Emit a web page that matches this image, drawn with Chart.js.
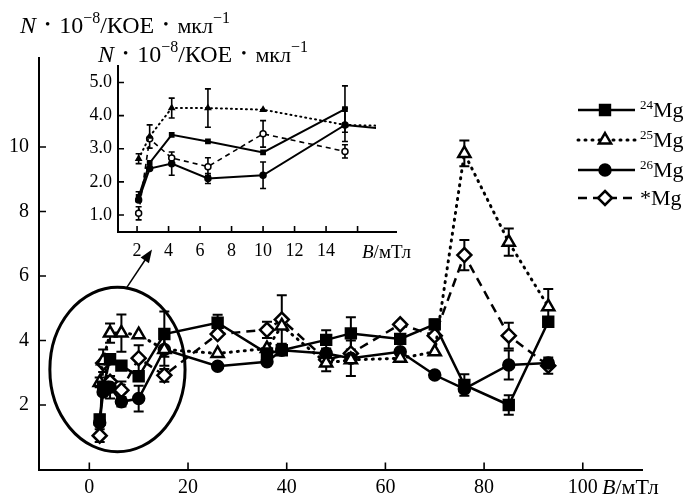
<!DOCTYPE html>
<html>
<head>
<meta charset="utf-8">
<script src="https://cdn.jsdelivr.net/npm/chart.js@4/dist/chart.umd.min.js"></script>
<style>
  body { margin: 0; background: #fff; }
  #wrap { position: relative; width: 692px; height: 499px; }
  canvas { position: absolute; left: 0; top: 0; }
</style>
</head>
<body>
<div id="wrap">
  <canvas id="main" width="692" height="499"></canvas>
  <canvas id="inset" width="692" height="499"></canvas>
</div>
<script>
// magnetic field, mT
const fieldB = [2.1, 2.8, 4.2, 6.5, 10, 15.2, 26, 36, 39, 48, 53, 63, 70, 76, 85, 93];
// N·10^-8 / КОЕ·мкл^-1 for each isotope
const mg24   = [1.55, 2.57, 3.42, 3.22, 2.89, 4.2, 4.55, 3.6, 3.7, 4.02, 4.22, 4.05, 4.5, 2.62, 2.0, 4.58];
const mg25   = [2.7, 3.37, 4.23, 4.23, 4.18, 3.72, 3.6, 3.75, 4.45, 3.3, 3.4, 3.45, 3.65, 9.8, 7.05, 5.05];
const mg26   = [1.45, 2.4, 2.55, 2.1, 2.2, 3.72, 3.2, 3.34, 3.7, 3.6, 3.45, 3.65, 2.93, 2.5, 3.24, 3.3];
const mgStar = [1.05, 3.3, 2.72, 2.46, 3.45, 2.92, 4.2, 4.33, 4.65, 3.4, 3.6, 4.5, 4.15, 6.65, 4.15, 3.22];
// error bar half-widths (0 = none)
const err24   = [0.15, 0, 0, 0, 0, 0.7, 0.25, 0, 0, 0.3, 0.5, 0, 0.15, 0.33, 0.3, 0];
const err25   = [0.15, 0.35, 0.3, 0.58, 0, 0, 0, 0, 0, 0, 0, 0, 0, 0.4, 0.42, 0.55];
const err26   = [0, 0, 0.35, 0.15, 0.4, 0.5, 0, 0, 0, 0, 0.55, 0, 0, 0, 0.45, 0];
const errStar = [0.2, 0, 0, 0.27, 0.4, 0.2, 0, 0.25, 0.75, 0.35, 0, 0, 0, 0.47, 0.4, 0.25];

const xTicks = [0, 20, 40, 60, 80, 100];
const yTicks = [2, 4, 6, 8, 10];
const insetXTicks = [2, 4, 6, 8, 10, 12, 14, 16];
const insetXLabels = ['2', '4', '6', '8', '10', '12', '14', ''];
const insetYTicks = [1, 2, 3, 4, 5];
const isotopes = ['24', '25', '26', '*'];
// points shown in the inset for each series
const insetCount = [6, 7, 7, 6];

const SERIF = '"Liberation Serif", "Times New Roman", serif';
Chart.defaults.font.family = SERIF;
Chart.defaults.color = '#000';

const styles = [
  { shape: 'rect', fill: '#000', r: 7, dash: [], cap: 'butt', width: 2.5, iDash: [], iWidth: 2 },
  { shape: 'triangle', fill: '#fff', r: 7, dash: [1, 6], cap: 'round', width: 3, iDash: [1, 4], iWidth: 2 },
  { shape: 'circle', fill: '#000', r: 5.5, dash: [], cap: 'butt', width: 2.5, iDash: [], iWidth: 2 },
  { shape: 'rectRot', fill: '#fff', r: 7, dash: [9, 6], cap: 'butt', width: 2.5, iDash: [5, 4], iWidth: 1.6 }
];
const values = [mg24, mg25, mg26, mgStar];
const errors = [err24, err25, err26, errStar];

function pts(vals, n) {
  return fieldB.slice(0, n).map((b, i) => ({ x: b, y: vals[i] }));
}

function marker(ctx, shape, x, y, r, fill) {
  ctx.save();
  ctx.fillStyle = fill; ctx.strokeStyle = '#000'; ctx.lineWidth = 2.5; ctx.setLineDash([]);
  ctx.beginPath();
  if (shape === 'rect') {
    const s = r * Math.SQRT1_2; ctx.rect(x - s, y - s, 2 * s, 2 * s);
  } else if (shape === 'circle') {
    ctx.arc(x, y, r, 0, Math.PI * 2);
  } else if (shape === 'triangle') {
    const h = r * 1.5;
    ctx.moveTo(x, y - h * 0.66); ctx.lineTo(x + r * 0.87, y + h * 0.33); ctx.lineTo(x - r * 0.87, y + h * 0.33); ctx.closePath();
  } else {
    ctx.moveTo(x, y - r); ctx.lineTo(x + r, y); ctx.lineTo(x, y + r); ctx.lineTo(x - r, y); ctx.closePath();
  }
  ctx.fill(); ctx.stroke();
  ctx.restore();
}

// pieces: [text, font, raise]; a null text is a stretchable gap, sized so the run is `width` wide
function drawPieces(ctx, x, y, pieces, width) {
  ctx.save();
  ctx.fillStyle = '#000'; ctx.textBaseline = 'alphabetic'; ctx.textAlign = 'left';
  let natural = 0, gaps = 0;
  pieces.forEach(p => {
    if (p[0] === null) { gaps++; return; }
    ctx.font = p[1]; natural += ctx.measureText(p[0]).width;
  });
  const gap = width && gaps ? Math.max(0, (width - natural) / gaps) : 0;
  pieces.forEach(p => {
    if (p[0] === null) { x += gap; return; }
    ctx.font = p[1];
    ctx.fillText(p[0], x, y - p[2]);
    x += ctx.measureText(p[0]).width;
  });
  ctx.restore();
}

function unitsTitle(ctx, x, y) {
  drawPieces(ctx, x, y, [
    ['N', 'italic 24px ' + SERIF, 0], [null],
    ['•', '15px ' + SERIF, 4], [null],
    ['10', '24px ' + SERIF, 0],
    ['−8', '16px ' + SERIF, 10],
    ['/КОЕ', '24px ' + SERIF, 0], [null],
    ['•', '15px ' + SERIF, 4], [null],
    ['мкл', '22px ' + SERIF, 0],
    ['−1', '16px ' + SERIF, 10]
  ], 210);
}

function inwardTicks(chart, len) {
  const { ctx, chartArea: a, scales: { x, y } } = chart;
  ctx.save();
  ctx.strokeStyle = '#000'; ctx.lineWidth = 1.6;
  ctx.beginPath();
  x.ticks.forEach(t => {
    const px = x.getPixelForValue(t.value);
    ctx.moveTo(px, a.bottom); ctx.lineTo(px, a.bottom - len);
  });
  y.ticks.forEach(t => {
    const py = y.getPixelForValue(t.value);
    ctx.moveTo(a.left, py); ctx.lineTo(a.left + len, py);
  });
  ctx.stroke();
  ctx.restore();
}

function errorBars(chart, cap, lw) {
  const { ctx, chartArea: a, scales: { x, y } } = chart;
  ctx.save();
  ctx.strokeStyle = '#000'; ctx.lineWidth = lw; ctx.setLineDash([]);
  chart.data.datasets.forEach(ds => {
    ds.data.forEach((d, i) => {
      const e = ds.errs[i];
      if (!e) return;
      const px = x.getPixelForValue(d.x);
      if (px > a.right - 20 || px < a.left) return;
      const y1 = y.getPixelForValue(d.y + e), y2 = y.getPixelForValue(d.y - e);
      ctx.beginPath();
      ctx.moveTo(px, y1); ctx.lineTo(px, y2);
      ctx.moveTo(px - cap, y1); ctx.lineTo(px + cap, y1);
      ctx.moveTo(px - cap, y2); ctx.lineTo(px + cap, y2);
      ctx.stroke();
    });
  });
  ctx.restore();
}

// circled region around the low-field points, in data units
const ring = { x: 5.7, y: 3.1, rx: 13.7, ry: 2.55 };
const arrowFrom = { x: 7.4, y: 5.6 }, arrowTo = { x: 12.7, y: 6.82 };
const legendY = [110, 140, 170, 198];

const mainExtras = {
  id: 'mainExtras',
  beforeDatasetsDraw(chart) { errorBars(chart, 5, 2); },
  afterDraw(chart) {
    const { ctx, scales: { x, y } } = chart;
    inwardTicks(chart, 7);
    // ellipse
    const cx = x.getPixelForValue(ring.x), cy = y.getPixelForValue(ring.y);
    const rx = x.getPixelForValue(ring.x + ring.rx) - cx, ry = cy - y.getPixelForValue(ring.y + ring.ry);
    ctx.save();
    ctx.strokeStyle = '#000'; ctx.lineWidth = 3;
    ctx.beginPath(); ctx.ellipse(cx, cy, rx, ry, 0, 0, Math.PI * 2); ctx.stroke();
    // arrow to the inset
    const ax = x.getPixelForValue(arrowFrom.x), ay = y.getPixelForValue(arrowFrom.y);
    const bx = x.getPixelForValue(arrowTo.x), by = y.getPixelForValue(arrowTo.y);
    const ang = Math.atan2(by - ay, bx - ax);
    ctx.lineWidth = 1.5;
    ctx.beginPath(); ctx.moveTo(ax, ay); ctx.lineTo(bx - 8 * Math.cos(ang), by - 8 * Math.sin(ang)); ctx.stroke();
    ctx.fillStyle = '#000';
    ctx.beginPath();
    ctx.moveTo(bx, by);
    ctx.lineTo(bx - 13 * Math.cos(ang) + 5 * Math.sin(ang), by - 13 * Math.sin(ang) - 5 * Math.cos(ang));
    ctx.lineTo(bx - 13 * Math.cos(ang) - 5 * Math.sin(ang), by - 13 * Math.sin(ang) + 5 * Math.cos(ang));
    ctx.closePath(); ctx.fill();
    ctx.restore();
    // legend
    styles.forEach((s, i) => {
      const ly = legendY[i];
      ctx.save();
      ctx.strokeStyle = '#000'; ctx.lineWidth = s.width; ctx.setLineDash(s.dash); ctx.lineCap = s.cap;
      ctx.beginPath(); ctx.moveTo(578, ly); ctx.lineTo(635, ly); ctx.stroke();
      ctx.restore();
      marker(ctx, s.shape, 605, ly, s.r, s.fill);
      if (isotopes[i] === '*') {
        drawPieces(ctx, 640, ly + 7, [['*Mg', '22px ' + SERIF, 0]]);
      } else {
        drawPieces(ctx, 640, ly + 7, [[isotopes[i], '13px ' + SERIF, 8], ['Mg', '22px ' + SERIF, 0]]);
      }
    });
    unitsTitle(ctx, 20, 33);
    drawPieces(ctx, 602, 494, [['B', 'italic 22px ' + SERIF, 0], ['/мТл', '22px ' + SERIF, 0]]);
  }
};

const insetExtras = {
  id: 'insetExtras',
  beforeDatasetsDraw(chart) { errorBars(chart, 3, 1.6); },
  afterDraw(chart) {
    inwardTicks(chart, 6);
    unitsTitle(chart.ctx, 98, 62);
    drawPieces(chart.ctx, 362, 258, [['B', 'italic 19px ' + SERIF, 0], ['/мТл', '19px ' + SERIF, 0]]);
  }
};

const axisBorder = { display: true, color: '#000', width: 2 };

new Chart(document.getElementById('main'), {
  type: 'line',
  data: {
    datasets: styles.map((s, i) => ({
      data: pts(values[i], fieldB.length),
      errs: errors[i],
      borderColor: '#000', borderWidth: s.width, borderDash: s.dash, borderCapStyle: s.cap,
      pointStyle: s.shape, pointRadius: s.r, pointBackgroundColor: s.fill,
      pointBorderColor: '#000', pointBorderWidth: 2.5,
      tension: 0, fill: false
    }))
  },
  options: {
    responsive: false, animation: false, events: [],
    layout: { padding: { left: 0, top: 58, right: 50, bottom: 0 } },
    plugins: { legend: { display: false }, tooltip: { enabled: false } },
    scales: {
      x: {
        type: 'linear', min: -10.2, max: 112,
        afterFit: s => { s.height = 29.5; },
        afterBuildTicks: s => { s.ticks = xTicks.map(v => ({ value: v })); },
        grid: { display: false, drawTicks: false },
        border: axisBorder,
        ticks: { padding: 6, font: { size: 20 }, maxRotation: 0, autoSkip: false }
      },
      y: {
        min: 0, max: 12.76,
        afterFit: s => { s.width = 39; },
        afterBuildTicks: s => { s.ticks = yTicks.map(v => ({ value: v })); },
        grid: { display: false, drawTicks: false },
        border: axisBorder,
        ticks: { padding: 10, font: { size: 20 } }
      }
    }
  },
  plugins: [mainExtras]
});

new Chart(document.getElementById('inset'), {
  type: 'line',
  data: {
    datasets: styles.map((s, i) => ({
      data: pts(values[i], insetCount[i]),
      errs: errors[i],
      borderColor: '#000', borderWidth: s.iWidth, borderDash: s.iDash, borderCapStyle: s.cap,
      pointStyle: s.shape === 'rectRot' ? 'circle' : s.shape,
      pointRadius: 3, pointBackgroundColor: s.shape === 'triangle' ? '#000' : s.fill,
      pointBorderColor: '#000', pointBorderWidth: 1.5,
      clip: { left: 8, top: 8, right: -20, bottom: 8 },
      tension: 0, fill: false
    }))
  },
  options: {
    responsive: false, animation: false, events: [],
    layout: { padding: { left: 78, top: 66, right: 296, bottom: 237 } },
    plugins: { legend: { display: false }, tooltip: { enabled: false } },
    scales: {
      x: {
        type: 'linear', min: 0.79, max: 18.44,
        afterFit: s => { s.height = 30; },
        afterBuildTicks: s => { s.ticks = insetXTicks.map(v => ({ value: v })); },
        grid: { display: false, drawTicks: false },
        border: axisBorder,
        ticks: {
          padding: 8, font: { size: 18 }, maxRotation: 0, autoSkip: false,
          callback: (v, i) => insetXLabels[i]
        }
      },
      y: {
        min: 0.485, max: 5.5,
        afterFit: s => { s.width = 40; },
        afterBuildTicks: s => { s.ticks = insetYTicks.map(v => ({ value: v })); },
        grid: { display: false, drawTicks: false },
        border: axisBorder,
        ticks: { padding: 6, font: { size: 18 }, callback: v => v.toFixed(1) }
      }
    }
  },
  plugins: [insetExtras]
});
</script>
</body>
</html>
